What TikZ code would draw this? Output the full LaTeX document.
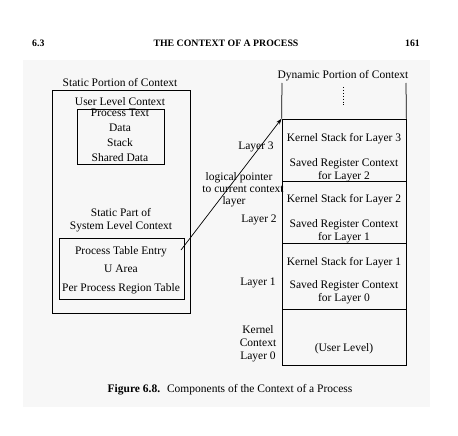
\documentclass[tikz,border=0pt]{standalone}
\usepackage{fontspec}
\setmainfont{Liberation Serif}
\usetikzlibrary{arrows.meta}
\begin{document}
\begin{tikzpicture}[x=1pt,y=-1pt,
  txt/.style={font=\fontsize{11.5}{12.6}\selectfont, inner sep=0pt, anchor=base, align=center},
  head/.style={font=\fontsize{9.8}{11}\selectfont\bfseries, inner sep=0pt, anchor=base},
  frame/.style={draw, line width=0.75pt, inner sep=0pt},
  cell/.style={draw, line width=0.75pt, inner sep=0pt, minimum width=124pt},
  ptr/.style={line width=0.7pt, -{Stealth[length=6pt,width=4pt]}}
]
% page
\useasboundingbox (0,0) rectangle (458,436);
\fill[white] (0,0) rectangle (458,436);
\fill[black!3] (23,60) rectangle (430,407);

% running head
\node[head, anchor=base west] (secno) at (32,47) {6.3};
\node[head] (title) at (226,47) {THE CONTEXT OF A PROCESS};
\node[head, anchor=base east] (pageno) at (420,47) {161};

% static portion (multi-line nodes are placed by the baseline of their last line)
\node[txt] (statlbl) at (120,87) {Static Portion of Context};
\node[frame, minimum width=138pt, minimum height=223pt] (static) at (121,201.5) {};
\node[txt] (userlbl) at (120,106) {User Level Context};
\node[frame, minimum width=87pt, minimum height=55pt] (user) at (120.5,136.5) {};
\node[txt] (ptext) at (120,117) {Process Text};
\node[txt] (pdata) at (120,131) {Data};
\node[txt] (pstack) at (120,146) {Stack};
\node[txt] (pshared) at (120,161) {Shared Data};
\node[txt] (syslbl) at (121,229) {Static Part of\\System Level Context};
\node[frame, minimum width=125pt, minimum height=61pt] (sys) at (121.5,268.5) {};
\node[txt] (pte) at (121,254) {Process Table Entry};
\node[txt] (uarea) at (121,272) {U Area};
\node[txt] (pprt) at (121,291) {Per Process Region Table};

% dynamic portion
\node[txt] (dynlbl) at (343,78) {Dynamic Portion of Context};
\node[cell, minimum height=62pt] (cell3) at (344,150) {};
\node[cell, minimum height=62pt] (cell2) at (344,212) {};
\node[cell, minimum height=66pt] (cell1) at (344,276) {};
\node[cell, minimum height=56pt] (cell0) at (344,337) {};
\coordinate (opentl) at (282,83);
\coordinate (opentr) at (406,83);
\draw[line width=0.75pt] (opentl) -- (cell3.north west);
\draw[line width=0.75pt] (opentr) -- (cell3.north east);
\coordinate (dottop) at (343,87);
\coordinate (dotbot) at (343,107);
\draw[line width=0.9pt, dotted] (dottop) -- (dotbot);

\node[txt] (ks3) at (344,141) {Kernel Stack for Layer 3};
\node[txt] (sr2) at (344,179) {Saved Register Context\\for Layer 2};
\node[txt] (ks2) at (344,202) {Kernel Stack for Layer 2};
\node[txt] (sr1) at (344,240) {Saved Register Context\\for Layer 1};
\node[txt] (ks1) at (344,265) {Kernel Stack for Layer 1};
\node[txt] (sr0) at (344,301) {Saved Register Context\\for Layer 0};
\node[txt] (ulev) at (344,351) {(User Level)};

% layer labels
\node[txt] (lay3) at (256,149) {Layer 3};
\node[txt] (lay2) at (259,222) {Layer 2};
\node[txt] (lay1) at (258,285) {Layer 1};
\node[txt] (lay0) at (258,359) {Kernel\\Context\\Layer 0};

% context pointer
\node[txt] (ptrl1) at (239,180) {logical pointer};
\node[txt] (ptrl2) at (243,192) {to current context};
\node[txt] (ptrl3) at (234,204) {layer};
\coordinate (ptrtail) at (181,250);
\draw[ptr] (ptrtail) -- (cell3.north west);

% caption
\node[txt] (caption) at (230,392) {\textbf{Figure 6.8.}\hspace{0.6em}Components of the Context of a Process};
\end{tikzpicture}
\end{document}
